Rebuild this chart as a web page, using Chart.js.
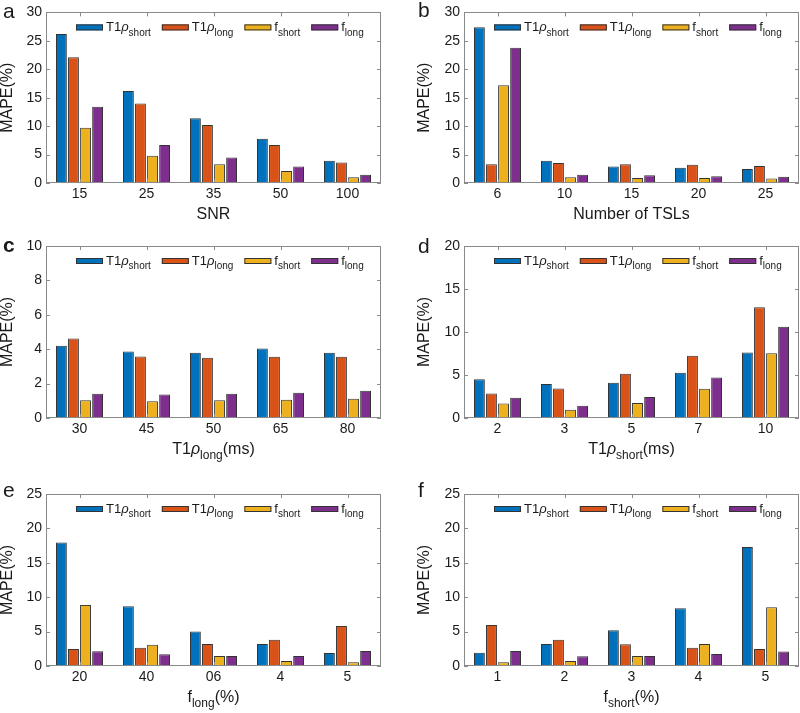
<!DOCTYPE html>
<html>
<head>
<meta charset="utf-8">
<script src="https://cdn.jsdelivr.net/npm/chart.js@4.4.0/dist/chart.umd.min.js"></script>
<style>
  body { margin: 0; background: #fff; width: 800px; height: 713px; position: relative; overflow: hidden; }
  .panel { position: absolute; }
</style>
</head>
<body>
<div class="panel" style="left:0;top:0"><canvas id="pa" width="400" height="230"></canvas></div>
<div class="panel" style="left:400px;top:0"><canvas id="pb" width="400" height="230"></canvas></div>
<div class="panel" style="left:0;top:230px"><canvas id="pc" width="400" height="240"></canvas></div>
<div class="panel" style="left:400px;top:230px"><canvas id="pd" width="400" height="240"></canvas></div>
<div class="panel" style="left:0;top:470px"><canvas id="pe" width="400" height="243"></canvas></div>
<div class="panel" style="left:400px;top:470px"><canvas id="pf" width="400" height="243"></canvas></div>
<script>
// --- data (MAPE %) ---
const snrLabels   = ['15', '25', '35', '50', '100'];
const snrT1Short  = [26.2, 16.2, 11.4, 7.8, 3.9];
const snrT1Long   = [22.1, 14.0, 10.2, 6.7, 3.6];
const snrFShort   = [9.7, 4.8, 3.3, 2.1, 1.0];
const snrFLong    = [13.4, 6.7, 4.5, 2.9, 1.45];

const tslLabels   = ['6', '10', '15', '20', '25'];
const tslT1Short  = [27.4, 3.9, 2.9, 2.7, 2.45];
const tslT1Long   = [3.3, 3.5, 3.3, 3.2, 3.0];
const tslFShort   = [17.2, 1.0, 0.9, 0.9, 0.8];
const tslFLong    = [23.8, 1.45, 1.35, 1.2, 1.1];

const t1lLabels   = ['30', '45', '50', '65', '80'];
const t1lT1Short  = [4.2, 3.87, 3.8, 4.04, 3.8];
const t1lT1Long   = [4.62, 3.58, 3.5, 3.56, 3.56];
const t1lFShort   = [1.03, 0.97, 1.03, 1.06, 1.12];
const t1lFLong    = [1.41, 1.37, 1.41, 1.47, 1.59];

const t1sLabels   = ['2', '3', '5', '7', '10'];
const t1sT1Short  = [4.5, 3.95, 4.1, 5.26, 7.62];
const t1sT1Long   = [2.86, 3.44, 5.14, 7.23, 12.88];
const t1sFShort   = [1.7, 0.97, 1.74, 3.4, 7.54];
const t1sFLong    = [2.36, 1.43, 2.44, 4.72, 10.6];

const flLabels    = ['20', '40', '06', '4', '5'];
const flT1Short   = [17.96, 8.69, 5.0, 3.2, 1.9];
const flT1Long    = [2.48, 2.67, 3.2, 3.83, 5.83];
const flFShort    = [8.88, 3.1, 1.46, 0.73, 0.53];
const flFLong     = [2.14, 1.7, 1.46, 1.46, 2.18];

const fsLabels    = ['1', '2', '3', '4', '5'];
const fsT1Short   = [1.94, 3.2, 5.2, 8.4, 17.28];
const fsT1Long    = [5.97, 3.83, 3.16, 2.67, 2.48];
const fsFShort    = [0.53, 0.73, 1.46, 3.2, 8.54];
const fsFLong     = [2.18, 1.41, 1.46, 1.75, 2.09];

// legend labels: [text, style] where style 'i' = italic, 's' = subscript
const seriesLabels = [
  [['T1'], ['ρ', 'i'], ['short', 's']],
  [['T1'], ['ρ', 'i'], ['long', 's']],
  [['f'], ['short', 's']],
  [['f'], ['long', 's']]
];
const seriesColors = ['#0072BD', '#D95319', '#EDB120', '#7E2F8E'];

const FONT = "'Liberation Sans', Arial, Helvetica, sans-serif";
const TEXT = '#1a1a1a';

function partFont(p, size) {
  const s = p[1] === 's' ? Math.round(size * 0.76) : size;
  return (p[1] === 'i' ? 'italic ' : '') + s + 'px ' + FONT;
}

function drawRich(ctx, parts, x, y, size, align) {
  let w = 0;
  parts.forEach(p => { ctx.font = partFont(p, size); w += ctx.measureText(p[0]).width; });
  let cx = align === 'center' ? x - w / 2 : x;
  ctx.textAlign = 'left';
  ctx.textBaseline = 'alphabetic';
  parts.forEach(p => {
    ctx.font = partFont(p, size);
    ctx.fillText(p[0], cx, y + (p[1] === 's' ? size * 0.32 : 0));
    cx += ctx.measureText(p[0]).width;
  });
  return w;
}

// box, inward ticks, legend, axis titles, panel letter (MATLAB look)
function makeDecor(cfg) {
  return {
    id: 'decor',
    afterDraw(chart) {
      const ctx = chart.ctx, a = chart.chartArea;
      const xs = chart.scales.x, ys = chart.scales.y;
      ctx.save();
      ctx.strokeStyle = '#8a8a8a';
      ctx.lineWidth = 1;
      ctx.strokeRect(Math.round(a.left) + 0.5, Math.round(a.top) + 0.5,
        Math.round(a.right - a.left) - 1, Math.round(a.bottom - a.top) - 1);
      ctx.beginPath();
      ys.ticks.forEach(t => {
        const y = Math.round(ys.getPixelForValue(t.value)) + 0.5;
        ctx.moveTo(a.left, y); ctx.lineTo(a.left + 4, y);
        ctx.moveTo(a.right, y); ctx.lineTo(a.right - 4, y);
      });
      xs.ticks.forEach((t, i) => {
        const x = Math.round(xs.getPixelForValue(i)) + 0.5;
        ctx.moveTo(x, a.bottom); ctx.lineTo(x, a.bottom - 4);
        ctx.moveTo(x, a.top); ctx.lineTo(x, a.top + 4);
      });
      ctx.stroke();

      // legend
      ctx.fillStyle = TEXT;
      let lx = a.left + 30;
      const ly = a.top + 15;
      seriesLabels.forEach((lab, i) => {
        ctx.fillStyle = seriesColors[i];
        ctx.fillRect(lx, ly - 3, 27, 6);
        ctx.strokeStyle = '#333';
        ctx.strokeRect(lx + 0.5, ly - 2.5, 26, 5);
        ctx.fillStyle = TEXT;
        const w = drawRich(ctx, lab, lx + 30, ly + 4, 13, 'left');
        lx += 30 + w + 11;
      });

      // x title
      drawRich(ctx, cfg.xTitle, (a.left + a.right) / 2, a.bottom + 36, 16, 'center');

      // y title
      ctx.save();
      ctx.translate(cfg.yTitleX, (a.top + a.bottom) / 2);
      ctx.rotate(-Math.PI / 2);
      ctx.font = '16px ' + FONT;
      ctx.textAlign = 'center';
      ctx.textBaseline = 'middle';
      ctx.fillText('MAPE(%)', 0, 0);
      ctx.restore();

      // panel letter
      ctx.font = (cfg.bold ? 'bold ' : '') + '21px ' + FONT;
      ctx.textAlign = 'left';
      ctx.textBaseline = 'alphabetic';
      ctx.fillText(cfg.letter, cfg.letterX, cfg.letterY);
      ctx.restore();
    }
  };
}

function makePanel(id, labels, values, yMax, yStep, area, cfg) {
  const canvas = document.getElementById(id);
  const H = canvas.height, W = canvas.width;
  new Chart(canvas, {
    type: 'bar',
    data: {
      labels,
      datasets: values.map((v, i) => ({
        data: v,
        backgroundColor: seriesColors[i],
        borderColor: '#333',
        borderWidth: 1,
        borderSkipped: 'bottom',
        categoryPercentage: 0.72,
        barPercentage: 0.9
      }))
    },
    options: {
      responsive: false,
      animation: false,
      layout: { padding: { top: area.top, right: W - area.right, bottom: 0, left: 0 } },
      plugins: { legend: { display: false }, tooltip: { enabled: false } },
      scales: {
        x: {
          grid: { display: false, drawTicks: false }, border: { display: false },
          ticks: { color: TEXT, font: { family: FONT, size: 14 }, padding: 3, maxRotation: 0 },
          afterFit: s => { s.height = H - area.bottom; }
        },
        y: {
          min: 0, max: yMax,
          grid: { display: false, drawTicks: false }, border: { display: false },
          ticks: { stepSize: yStep, color: TEXT, font: { family: FONT, size: 14 }, padding: 4 },
          afterFit: s => { s.width = area.left; }
        }
      }
    },
    plugins: [makeDecor(cfg)]
  });
}

makePanel('pa', snrLabels, [snrT1Short, snrT1Long, snrFShort, snrFLong], 30, 5,
  { left: 46, right: 381, top: 12, bottom: 183 },
  { xTitle: [['SNR']], yTitleX: 8, letter: 'a', letterX: 3, letterY: 18 });
makePanel('pb', tslLabels, [tslT1Short, tslT1Long, tslFShort, tslFLong], 30, 5,
  { left: 64, right: 399, top: 12, bottom: 183 },
  { xTitle: [['Number of TSLs']], yTitleX: 25, letter: 'b', letterX: 18, letterY: 17 });
makePanel('pc', t1lLabels, [t1lT1Short, t1lT1Long, t1lFShort, t1lFLong], 10, 2,
  { left: 46, right: 381, top: 16, bottom: 188 },
  { xTitle: [['T1'], ['ρ', 'i'], ['long', 's'], ['(ms)']], yTitleX: 8, letter: 'c', letterX: 3, letterY: 22, bold: true });
makePanel('pd', t1sLabels, [t1sT1Short, t1sT1Long, t1sFShort, t1sFLong], 20, 5,
  { left: 64, right: 399, top: 16, bottom: 188 },
  { xTitle: [['T1'], ['ρ', 'i'], ['short', 's'], ['(ms)']], yTitleX: 25, letter: 'd', letterX: 18, letterY: 23 });
makePanel('pe', flLabels, [flT1Short, flT1Long, flFShort, flFLong], 25, 5,
  { left: 46, right: 381, top: 24, bottom: 196 },
  { xTitle: [['f'], ['long', 's'], ['(%)']], yTitleX: 8, letter: 'e', letterX: 3, letterY: 27 });
makePanel('pf', fsLabels, [fsT1Short, fsT1Long, fsFShort, fsFLong], 25, 5,
  { left: 64, right: 399, top: 24, bottom: 196 },
  { xTitle: [['f'], ['short', 's'], ['(%)']], yTitleX: 25, letter: 'f', letterX: 18, letterY: 27 });
</script>
</body>
</html>
